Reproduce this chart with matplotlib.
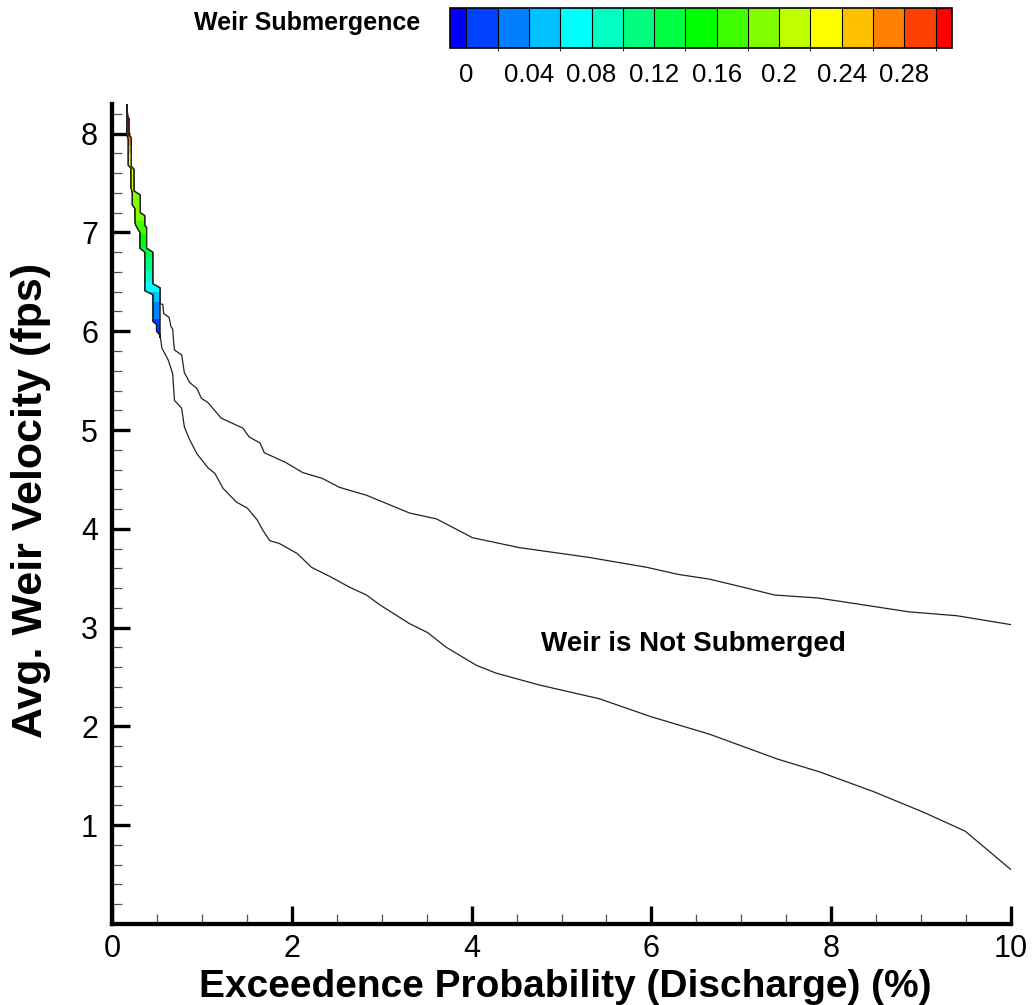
import numpy as np
import matplotlib
matplotlib.use('Agg')
import matplotlib.pyplot as plt
from matplotlib.colors import ListedColormap, BoundaryNorm
from matplotlib.cm import ScalarMappable
from matplotlib.patches import Polygon
from matplotlib.ticker import MultipleLocator

plt.rcParams['font.family'] = ['Liberation Sans', 'DejaVu Sans']

# =========================
# Данные
# =========================
# верхняя кривая (правая граница цветной области)
upper_x = [0.165, 0.175, 0.19, 0.19, 0.215, 0.215, 0.245, 0.245, 0.315, 0.315,
           0.365, 0.365, 0.385, 0.385, 0.455, 0.455, 0.535, 0.535, 0.565, 0.575,
           0.635, 0.655, 0.675, 0.685, 0.695, 0.775, 0.805, 0.865, 0.945, 0.995,
           1.065, 1.215, 1.455, 1.525, 1.645, 1.695, 1.935, 2.12, 2.34, 2.53,
           2.83, 3.31, 3.61, 4.01, 4.53, 5.31, 5.95, 6.29, 6.65, 7.06,
           7.37, 7.85, 8.36, 8.86, 9.40, 10.0]
upper_y = [8.30, 8.18, 8.15, 7.98, 7.96, 7.67, 7.64, 7.42, 7.38, 7.20,
           7.17, 7.07, 7.05, 6.84, 6.80, 6.48, 6.44, 6.28, 6.27, 6.18,
           6.14, 6.05, 6.02, 5.90, 5.81, 5.76, 5.58, 5.48, 5.42, 5.32,
           5.28, 5.12, 5.02, 4.93, 4.87, 4.77, 4.67, 4.57, 4.51, 4.42,
           4.34, 4.16, 4.10, 3.91, 3.81, 3.71, 3.61, 3.54, 3.49, 3.40,
           3.33, 3.30, 3.23, 3.16, 3.12, 3.03]

# нижняя кривая (левая граница цветной области)
lower_x = [0.165, 0.165, 0.18, 0.18, 0.21, 0.21, 0.225, 0.225, 0.255, 0.255,
           0.265, 0.31, 0.31, 0.365, 0.365, 0.455, 0.455, 0.495, 0.495, 0.535,
           0.555, 0.625, 0.675, 0.695, 0.775, 0.805, 0.865, 0.945, 1.065, 1.145,
           1.235, 1.385, 1.505, 1.615, 1.675, 1.755, 1.865, 2.06, 2.22, 2.44,
           2.64, 2.83, 2.98, 3.31, 3.51, 3.72, 4.05, 4.27, 4.75, 5.42,
           5.99, 6.65, 7.40, 7.87, 8.47, 9.03, 9.49, 10.0]
lower_y = [8.30, 7.99, 7.94, 7.68, 7.65, 7.46, 7.40, 7.28, 7.24, 7.10,
           7.07, 7.00, 6.84, 6.80, 6.41, 6.37, 6.10, 6.07, 6.00, 5.96,
           5.83, 5.71, 5.57, 5.30, 5.22, 5.03, 4.90, 4.76, 4.62, 4.56,
           4.41, 4.27, 4.21, 4.09, 3.99, 3.88, 3.85, 3.75, 3.61, 3.51,
           3.41, 3.33, 3.23, 3.04, 2.95, 2.80, 2.62, 2.54, 2.42, 2.28,
           2.10, 1.92, 1.67, 1.54, 1.34, 1.13, 0.94, 0.55]

# границы по скорости и значения затопления в каждой полосе
sub_edges = [8.30, 8.10, 7.97, 7.88, 7.80, 7.66, 7.42, 7.12, 6.98, 6.84,
             6.74, 6.62, 6.50, 6.40, 6.30, 6.12, 5.93]
sub_values = [0.31, 0.29, 0.27, 0.25, 0.23, 0.21, 0.19, 0.17, 0.15, 0.13,
              0.11, 0.09, 0.07, 0.05, 0.03, 0.01]

# шкала
levels = [0.0, 0.02, 0.04, 0.06, 0.08, 0.10, 0.12, 0.14, 0.16, 0.18,
          0.20, 0.22, 0.24, 0.26, 0.28, 0.30]
cbar_ticks = [0, 0.04, 0.08, 0.12, 0.16, 0.2, 0.24, 0.28]
x_ticks = [0, 2, 4, 6, 8, 10]
y_ticks = [1, 2, 3, 4, 5, 6, 7, 8]

band_colors = ['#0040ff', '#0080ff', '#00c0ff', '#00ffff', '#00ffc0',
               '#00ff80', '#00ff40', '#00ff00', '#40ff00', '#80ff00',
               '#c0ff00', '#ffff00', '#ffc000', '#ff8000', '#ff4000']

W, H = 1036, 1005


def build_graph():
    fig = plt.figure(figsize=(W / 100, H / 100), dpi=100)
    ax = fig.add_axes([112 / W, 1 - 924 / H, 899 / W, 820 / H])

    cmap = ListedColormap(band_colors)
    cmap.set_under('#0000ff')
    cmap.set_over('#ff0000')
    norm = BoundaryNorm(levels, cmap.N)

    # цветная область между кривыми (только где водослив затоплен)
    n_up = 18   # до точки (0.535, 6.28)
    n_lo = 20   # до точки (0.535, 5.96)
    pts = list(zip(upper_x[:n_up], upper_y[:n_up]))
    pts.append((upper_x[n_up - 1], sub_edges[-1]))
    pts += list(zip(lower_x[:n_lo], lower_y[:n_lo]))[::-1]
    region = Polygon(pts, closed=True, transform=ax.transData,
                     facecolor='none', edgecolor='black', lw=0.8, zorder=3)
    ax.add_patch(region)
    for top, bot, s in zip(sub_edges[:-1], sub_edges[1:], sub_values):
        span = ax.axhspan(bot, top, color=cmap(norm(s)), lw=0, zorder=2)
        span.set_clip_path(region)

    # кривые
    ax.plot(upper_x, upper_y, color='#222222', lw=0.9, zorder=4)
    ax.plot(lower_x, lower_y, color='#222222', lw=0.9, zorder=4)

    ax.text(6.47, 2.76, 'Weir is Not Submerged', fontsize=20,
            fontweight='bold', ha='center', va='baseline')

    # оси
    ax.set_xlim(0, 10)
    ax.set_ylim(0, 8.3)
    ax.set_xticks(x_ticks)
    ax.set_xticklabels([str(v) for v in x_ticks])
    ax.set_yticks(y_ticks)
    ax.set_yticklabels([str(v) for v in y_ticks])
    ax.xaxis.set_minor_locator(MultipleLocator(0.5))
    ax.yaxis.set_minor_locator(MultipleLocator(0.2))
    ax.tick_params(which='major', direction='in', length=13, width=2.4,
                   labelsize=22)
    ax.tick_params(which='minor', direction='in', length=7, width=0.9,
                   color='#555555')
    ax.tick_params(axis='x', which='major', pad=7)
    ax.tick_params(axis='y', which='major', pad=10)
    for side in ['top', 'right']:
        ax.spines[side].set_visible(False)
    for side in ['left', 'bottom']:
        ax.spines[side].set_linewidth(3.1)

    fig.text(565 / W, 1 - 987 / H, 'Exceedence Probability (Discharge) (%)',
             fontsize=28, fontweight='bold', ha='center', va='center')
    fig.text(31 / W, 1 - 500 / H, 'Avg. Weir Velocity (fps)',
             fontsize=31, fontweight='bold', ha='center', va='center',
             rotation=90)

    # легенда-шкала сверху
    cax = fig.add_axes([450 / W, 1 - 48 / H, 502 / W, 40 / H])
    sm = ScalarMappable(norm=norm, cmap=cmap)
    cb = fig.colorbar(sm, cax=cax, orientation='horizontal', extend='both',
                      extendrect=True, extendfrac=0.035, drawedges=True,
                      ticks=cbar_ticks)
    cb.set_ticklabels(['%g' % t for t in cbar_ticks])
    cb.ax.tick_params(length=0, labelsize=18.5, pad=11)
    cb.outline.set_linewidth(1.2)
    cb.dividers.set_linewidth(0.8)
    fig.text(420 / W, 1 - 30 / H, 'Weir Submergence', fontsize=18,
             fontweight='bold', ha='right', va='baseline')

    fig.savefig('out.png', dpi=100)


if __name__ == '__main__':
    build_graph()
